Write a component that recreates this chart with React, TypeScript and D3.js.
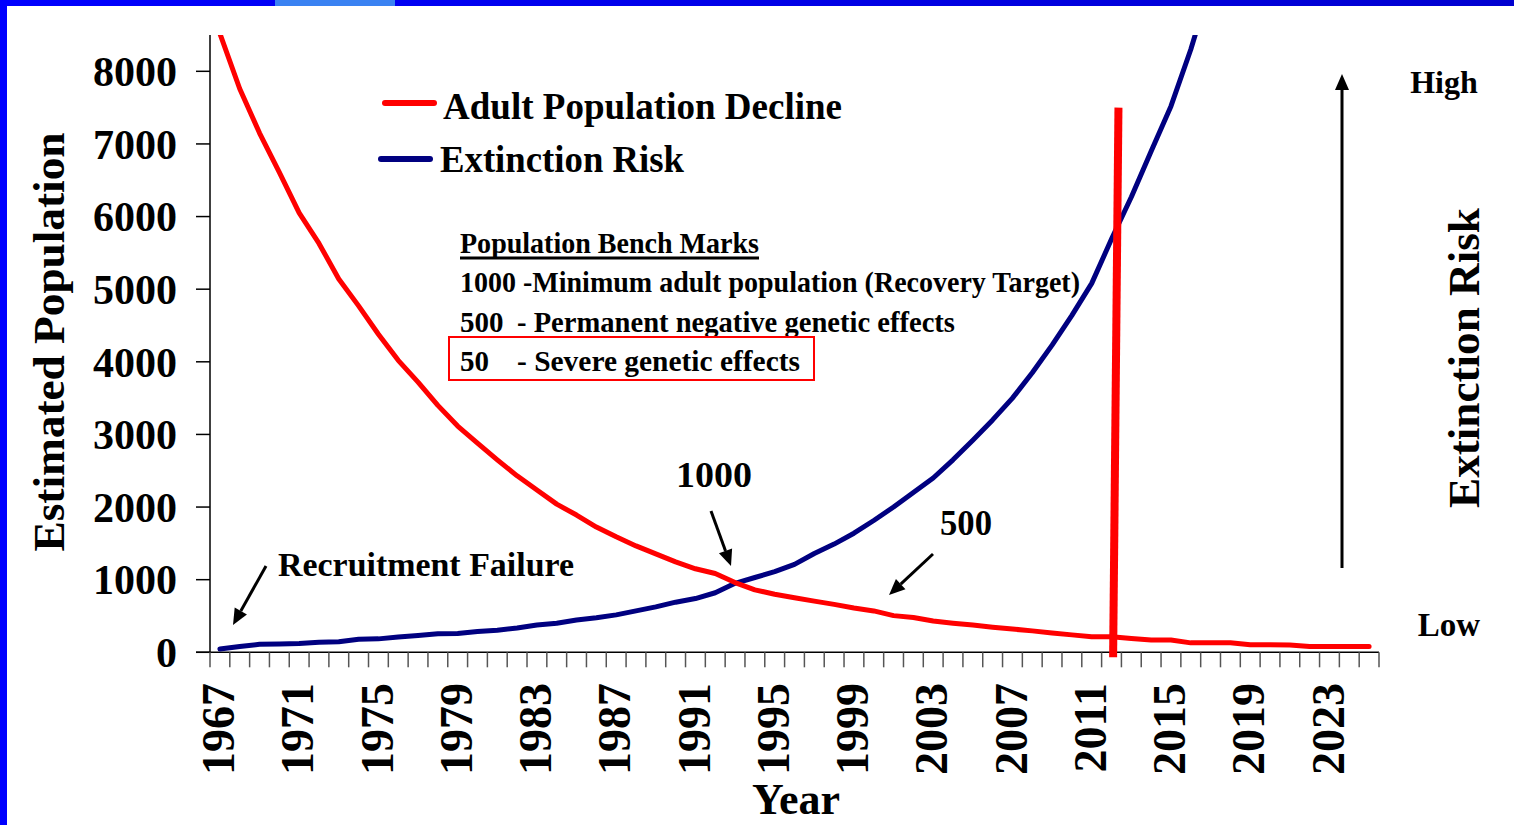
import React from "react"
import * as d3 from "d3"

// categories: one per year
const years = d3.range(1967, 2026).map(String)
const yTicks = [0, 1000, 2000, 3000, 4000, 5000, 6000, 7000, 8000]
const xTickLabels = years.filter((d, i) => i % 4 === 0)

// Adult Population Decline (red)
const adultPop = [
  8520, 7760, 7150, 6610, 6050, 5630, 5140, 4770, 4380, 4020,
  3720, 3400, 3115, 2880, 2650, 2430, 2235, 2040, 1890, 1725,
  1590, 1465, 1355, 1245, 1150, 1085, 960, 860, 800, 752,
  705, 660, 610, 570, 505, 480, 430, 400, 375, 345,
  320, 295, 265, 240, 215, 215, 190, 170, 170, 130,
  130, 130, 105, 105, 100, 80, 80, 80, 80,
]

// Extinction Risk (blue), runs off the top after 2016
const extinctionRisk = [
  45, 80, 110, 115, 120, 140, 145, 180, 185, 210,
  230, 255, 260, 285, 305, 335, 375, 400, 445, 475,
  515, 570, 625, 690, 740, 820, 950, 1030, 1110, 1210,
  1360, 1490, 1640, 1815, 2000, 2200, 2400, 2650, 2920, 3200,
  3500, 3850, 4230, 4640, 5080, 5690, 6270, 6900, 7520, 8300,
  9200, null, null, null, null, null, null, null, null,
]

const font = "'Liberation Serif', 'Times New Roman', serif"

const Arrow = ({x1, y1, x2, y2, w = 3}) => {
  const a = Math.atan2(y2 - y1, x2 - x1)
  const len = 16, half = 7
  const bx = x2 - len * Math.cos(a), by = y2 - len * Math.sin(a)
  const px = -Math.sin(a) * half, py = Math.cos(a) * half
  return (
    <g>
      <line x1={x1} y1={y1} x2={bx} y2={by} stroke="#000" strokeWidth={w} />
      <polygon points={`${x2},${y2} ${bx + px},${by + py} ${bx - px},${by - py}`} fill="#000" />
    </g>
  )
}

export default function App() {
  const W = 1514, H = 825
  const left = 210, right = 1379, top = 35, bottom = 652.3

  const x = d3.scaleBand().domain(years).range([left, right]).padding(0)
  const y = d3.scaleLinear().domain([0, 8500]).range([bottom, top])
  const bw = x.bandwidth()
  const cx = (d) => x(d) + bw / 2

  const line = d3.line()
    .defined(d => d[1] != null)
    .x(d => cx(d[0]))
    .y(d => y(d[1]))

  const redPath = line(years.map((d, i) => [d, adultPop[i]]))
  const bluePath = line(years.map((d, i) => [d, extinctionRisk[i]]))

  const tickXs = years.map(d => x(d)).concat([right])

  // the red marker line drawn near 2012
  const markTopX = x("2012") + bw * 0.85
  const markBotX = x("2012") + bw * 0.58

  return (
    <svg width={W} height={H} style={{position: "absolute", left: 0, top: 0, background: "#fff"}}
      fontFamily={font} fontWeight="bold">
      <defs>
        <linearGradient id="topbar" x1="0" x2="1" y1="0" y2="0">
          <stop offset="0" stopColor="#0000ff" />
          <stop offset="1" stopColor="#0000d0" />
        </linearGradient>
        <clipPath id="plot">
          <rect x={left} y={top} width={right - left} height={bottom - top + 20} />
        </clipPath>
      </defs>
      <rect x={0} y={0} width={W} height={H} fill="#fff" />
      <rect x={0} y={0} width={W} height={6} fill="url(#topbar)" />
      <rect x={275} y={0} width={120} height={6} fill="#3a82f2" />
      <rect x={0} y={0} width={7} height={H} fill="#0000ff" />

      {/* axes */}
      <line x1={left} y1={top} x2={left} y2={bottom} stroke="#000" strokeWidth={1.5} />
      <line x1={left - 14} y1={bottom} x2={right} y2={bottom} stroke="#000" strokeWidth={1.5} />
      {yTicks.map(t => (
        <g key={t}>
          <line x1={left - 14} x2={left} y1={y(t)} y2={y(t)} stroke="#000" strokeWidth={1.5} />
          <text x={177} y={y(t)} dy="0.35em" textAnchor="end" fontSize={42}>{t}</text>
        </g>
      ))}
      {tickXs.map((t, i) => (
        <line key={i} x1={t} x2={t} y1={bottom} y2={bottom + 15} stroke="#555" strokeWidth={1.5} />
      ))}
      {xTickLabels.map(d => (
        <text key={d} transform={`translate(${cx(d) - 2},683) rotate(-90)`} dy="0.35em"
          textAnchor="end" fontSize={46}>{d}</text>
      ))}

      <text transform="translate(48,342) rotate(-90)" dy="0.35em" textAnchor="middle"
        fontSize={45} textLength={419} lengthAdjust="spacingAndGlyphs">Estimated Population</text>
      <text x={796} y={814} textAnchor="middle" fontSize={44}>Year</text>

      {/* series */}
      <g clipPath="url(#plot)">
        <path d={bluePath} fill="none" stroke="#000080" strokeWidth={5} strokeLinejoin="round" strokeLinecap="round" />
        <path d={redPath} fill="none" stroke="#ff0000" strokeWidth={5} strokeLinejoin="round" strokeLinecap="round" />
      </g>
      <line x1={markTopX} y1={y(7500)} x2={markBotX} y2={bottom + 5} stroke="#ff0000" strokeWidth={8} />

      {/* legend */}
      <line x1={385} x2={434} y1={103} y2={103} stroke="#ff0000" strokeWidth={6} strokeLinecap="round" />
      <text x={443} y={119} fontSize={37} textLength={399} lengthAdjust="spacingAndGlyphs">Adult Population Decline</text>
      <line x1={381} x2={430} y1={159} y2={159} stroke="#000080" strokeWidth={6} strokeLinecap="round" />
      <text x={440} y={172} fontSize={37} textLength={244} lengthAdjust="spacingAndGlyphs">Extinction Risk</text>

      {/* bench marks */}
      <text x={460} y={253} fontSize={29} textLength={299} lengthAdjust="spacingAndGlyphs">Population Bench Marks</text>
      <rect x={460} y={256.5} width={299} height={3} fill="#000" />
      <text x={460} y={292} fontSize={29} textLength={620} lengthAdjust="spacingAndGlyphs">1000 -Minimum adult population (Recovery Target)</text>
      <text x={460} y={332} fontSize={29}>500</text>
      <text x={517} y={332} fontSize={29} textLength={438} lengthAdjust="spacingAndGlyphs">- Permanent negative genetic effects</text>
      <text x={460} y={371} fontSize={29}>50</text>
      <text x={517} y={371} fontSize={29} textLength={283} lengthAdjust="spacingAndGlyphs">- Severe genetic effects</text>
      <rect x={449} y={337} width={365} height={43} fill="none" stroke="#ff0000" strokeWidth={2} />

      {/* annotations */}
      <text x={278} y={576} fontSize={34} textLength={296} lengthAdjust="spacingAndGlyphs">Recruitment Failure</text>
      <Arrow x1={266} y1={566} x2={233} y2={625} />
      <text x={676} y={487} fontSize={36} textLength={76} lengthAdjust="spacingAndGlyphs">1000</text>
      <Arrow x1={711} y1={511} x2={731} y2={566} />
      <text x={940} y={535} fontSize={36} textLength={52} lengthAdjust="spacingAndGlyphs">500</text>
      <Arrow x1={933} y1={554} x2={889} y2={595} />

      {/* risk scale on the right */}
      <Arrow x1={1342} y1={568} x2={1342} y2={74} />
      <text x={1444} y={93} textAnchor="middle" fontSize={32}>High</text>
      <text x={1449} y={636} textAnchor="middle" fontSize={33}>Low</text>
      <text transform="translate(1463,358) rotate(-90)" dy="0.35em" textAnchor="middle"
        fontSize={45} textLength={300} lengthAdjust="spacingAndGlyphs">Extinction Risk</text>
    </svg>
  )
}
